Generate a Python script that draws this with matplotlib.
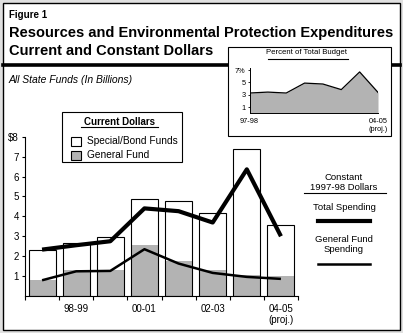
import matplotlib
matplotlib.use("Agg")
import matplotlib.pyplot as plt
from matplotlib.patches import Rectangle
from matplotlib.lines import Line2D

# ---------------- data ----------------
years = ["97-98", "98-99", "99-00", "00-01", "01-02", "02-03", "03-04", "04-05"]
tick_labels = ["98-99", "00-01", "02-03", "04-05\n(proj.)"]
total_current = [2.33, 2.68, 2.94, 4.85, 4.75, 4.19, 7.37, 3.59]
general_fund_current = [0.82, 1.29, 1.33, 2.58, 1.78, 1.33, 1.07, 0.98]
total_constant = [2.33, 2.55, 2.75, 4.40, 4.26, 3.69, 6.36, 3.00]
general_fund_constant = [0.79, 1.24, 1.26, 2.35, 1.63, 1.16, 0.96, 0.86]
pct_total_budget = [3.3, 3.45, 3.3, 4.9, 4.75, 3.85, 6.7, 3.4]
pct_ticks = [1, 3, 5, 7]
pct_tick_labels = ["1", "3", "5", "7%"]
y_ticks = [1, 2, 3, 4, 5, 6, 7, 8]
y_tick_labels = ["1", "2", "3", "4", "5", "6", "7", "$8"]

W, H = 403, 333
FONT = "Liberation Sans"
NARROW = ["Liberation Sans Narrow", "Liberation Sans"]
GRAY = "#b3b3b3"

fig = plt.figure(figsize=(W / 100, H / 100), dpi=100)
fig.patch.set_facecolor("#e0e0e0")


def fx(x):
    return x / W


def fy(y):
    return 1 - y / H


def rect_px(x0, y0, x1, y1):
    return [fx(x0), fy(y1), (x1 - x0) / W, (y1 - y0) / H]


# outer white frame
fig.patches.append(Rectangle((fx(2.5), fy(329.5)), (397) / W, (327) / H,
                             transform=fig.transFigure, facecolor="white",
                             edgecolor="black", linewidth=1.0, zorder=-5))

# header texts
fig.text(fx(9), fy(15), "Figure 1", fontsize=7, fontweight="bold",
         family=FONT, va="center", ha="left")
fig.text(fx(9), fy(33), "Resources and Environmental Protection Expenditures",
         fontsize=10.5, fontweight="bold", family=FONT, va="center", ha="left")
fig.text(fx(9), fy(51), "Current and Constant Dollars",
         fontsize=10.5, fontweight="bold", family=FONT, va="center", ha="left")
fig.lines.append(Line2D([fx(2.5), fx(399.5)], [fy(64.5), fy(64.5)],
                        transform=fig.transFigure, color="black", linewidth=2.6))
fig.text(fx(9), fy(80), "All State Funds (In Billions)", fontsize=7.5,
         style="italic", family=FONT, va="center", ha="left")

# ---------------- main axes ----------------
ax = fig.add_axes(rect_px(25, 136.7, 298, 296))
ax.set_zorder(1)
x = list(range(len(years)))
bw = 0.79
ax.bar(x, total_current, width=bw, color="white", edgecolor="none", zorder=1)
ax.bar(x, general_fund_current, width=bw, color=GRAY, edgecolor="none", zorder=2)
ax.bar(x, total_current, width=bw, fill=False, edgecolor="black",
       linewidth=0.8, zorder=3)
ax.plot(x, total_constant, color="black", linewidth=3.0, zorder=4,
        solid_capstyle="butt")
ax.plot(x, general_fund_constant, color="black", linewidth=1.8, zorder=4,
        solid_capstyle="butt")

ax.set_xlim(-0.5, 7.5)
ax.set_ylim(0, 8)
for s in ["top", "right"]:
    ax.spines[s].set_visible(False)
for s in ["left", "bottom"]:
    ax.spines[s].set_linewidth(0.8)
ax.set_yticks(y_ticks)
ax.set_yticklabels(y_tick_labels, family=FONT, fontsize=7)
ax.tick_params(axis="y", length=2.5, width=0.8, pad=2)
ax.set_xticks([i - 0.5 for i in range(len(years) + 1)])
ax.set_xticklabels([])
ax.tick_params(axis="x", which="major", length=3, width=0.8)
ax.set_xticks([1, 3, 5, 7], minor=True)
ax.set_xticklabels(tick_labels, minor=True, family=FONT, fontsize=7,
                   va="top", linespacing=1.1)
ax.tick_params(axis="x", which="minor", length=0, pad=6)
ax.set_facecolor("none")

# main legend box
fig.patches.append(Rectangle((fx(62), fy(162)), 120 / W, 50 / H,
                             transform=fig.transFigure, facecolor="white",
                             edgecolor="black", linewidth=0.8, zorder=5))
fig.text(fx(119.5), fy(122), "Current Dollars", fontsize=7, fontweight="bold",
         family=FONT, ha="center", va="center", zorder=6)
fig.lines.append(Line2D([fx(81), fx(158)], [fy(127), fy(127)],
                        transform=fig.transFigure, color="black", linewidth=0.8,
                        zorder=6))
fig.patches.append(Rectangle((fx(71), fy(146)), 9.5 / W, 9.5 / H,
                             transform=fig.transFigure, facecolor="white",
                             edgecolor="black", linewidth=0.8, zorder=6))
fig.patches.append(Rectangle((fx(71), fy(160)), 9.5 / W, 9.5 / H,
                             transform=fig.transFigure, facecolor=GRAY,
                             edgecolor="black", linewidth=0.8, zorder=6))
fig.text(fx(87), fy(141.5), "Special/Bond Funds", fontsize=7.3, family=FONT,
         ha="left", va="center", zorder=6)
fig.text(fx(87), fy(155.5), "General Fund", fontsize=7.3, family=FONT,
         ha="left", va="center", zorder=6)

# right-hand constant-dollar legend
cx = 344
RFS = 6.8
fig.text(fx(cx), fy(177), "Constant", fontsize=RFS, family=FONT,
         ha="center", va="center")
fig.text(fx(cx), fy(187), "1997-98 Dollars", fontsize=RFS, family=FONT,
         ha="center", va="center")
fig.lines.append(Line2D([fx(304), fx(386)], [fy(193.5), fy(193.5)],
                        transform=fig.transFigure, color="black", linewidth=0.8))
fig.text(fx(cx), fy(207.5), "Total Spending", fontsize=RFS, family=FONT,
         ha="center", va="center")
fig.lines.append(Line2D([fx(318), fx(370)], [fy(220.5), fy(220.5)],
                        transform=fig.transFigure, color="black", linewidth=3.0))
fig.text(fx(cx), fy(239), "General Fund", fontsize=RFS, family=FONT,
         ha="center", va="center")
fig.text(fx(cx), fy(250), "Spending", fontsize=RFS, family=FONT,
         ha="center", va="center")
fig.lines.append(Line2D([fx(318), fx(370)], [fy(263.5), fy(263.5)],
                        transform=fig.transFigure, color="black", linewidth=1.8))

# ---------------- inset ----------------
fig.patches.append(Rectangle((fx(228), fy(136)), 163 / W, 89 / H,
                             transform=fig.transFigure, facecolor="white",
                             edgecolor="black", linewidth=0.8, zorder=7))
fig.text(fx(307), fy(53), "Percent of Total Budget", fontsize=5.6,
         family=NARROW, ha="center", va="center", zorder=8)
fig.lines.append(Line2D([fx(268), fx(348)], [fy(58.5), fy(58.5)],
                        transform=fig.transFigure, color="black", linewidth=0.8,
                        zorder=8))
iax = fig.add_axes(rect_px(249.5, 68.2, 378, 113.5))
iax.set_zorder(9)
iax.set_facecolor("none")
ix = list(range(len(pct_total_budget)))
iax.fill_between(ix, pct_total_budget, 0, color=GRAY, linewidth=0)
iax.plot(ix, pct_total_budget, color="black", linewidth=0.9)
iax.set_xlim(0, 7)
iax.set_ylim(0, 7.3)
for s in ["top", "right"]:
    iax.spines[s].set_visible(False)
for s in ["left", "bottom"]:
    iax.spines[s].set_linewidth(0.7)
iax.set_yticks(pct_ticks)
iax.set_yticklabels(pct_tick_labels, family=NARROW, fontsize=5.3)
iax.tick_params(axis="y", length=1.5, width=0.6, pad=1.5)
iax.set_xticks([0, 7])
iax.set_xticklabels([years[0], years[-1] + "\n(proj.)"], family=NARROW,
                    fontsize=5.3, va="top", linespacing=1.2)
iax.tick_params(axis="x", length=0, pad=3)
for lbl in iax.get_xticklabels():
    lbl.set_ha("center")

fig.savefig("out.png", dpi=100, facecolor=fig.get_facecolor())
